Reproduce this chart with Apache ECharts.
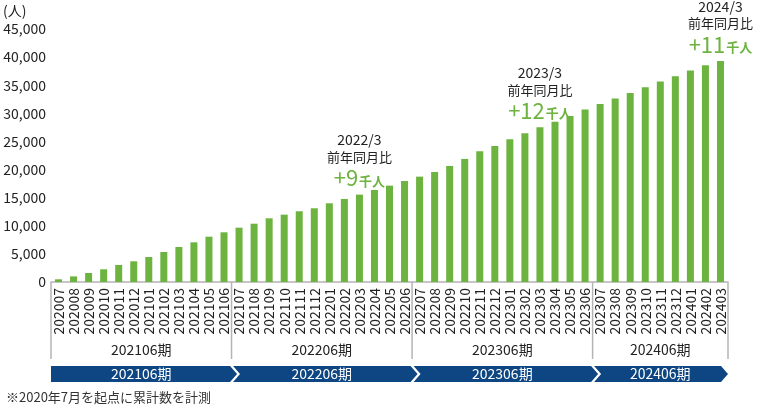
<!DOCTYPE html>
<html>
<head>
<meta charset="utf-8">
<script src="https://cdn.jsdelivr.net/npm/echarts@6/dist/echarts.min.js"></script>
<style>
  html, body { margin: 0; padding: 0; background: #fff; }
  #chart { width: 760px; height: 411px; }
</style>
</head>
<body>
<div id="chart"></div>
<script>
// months (cumulative count since 2020/7)
const months = [
  '202007', '202008', '202009', '202010', '202011', '202012',
  '202101', '202102', '202103', '202104', '202105', '202106',
  '202107', '202108', '202109', '202110', '202111', '202112',
  '202201', '202202', '202203', '202204', '202205', '202206',
  '202207', '202208', '202209', '202210', '202211', '202212',
  '202301', '202302', '202303', '202304', '202305', '202306',
  '202307', '202308', '202309', '202310', '202311', '202312',
  '202401', '202402', '202403'
]
const members = [
  480, 1000, 1600, 2260, 3030, 3680, 4450, 5340, 6230, 7060, 8060, 8840,
  9660, 10370, 11330, 11980, 12580, 13110, 14000, 14770, 15540, 16370, 17140, 17970,
  18740, 19570, 20640, 21890, 23250, 24200, 25390, 26460, 27530, 28520, 29540, 30660,
  31670, 32620, 33630, 34640, 35640, 36600, 37600, 38560, 39320
]
const periods = ['202106期', '202206期', '202306期', '202406期']
const periodSizes = [12, 12, 12, 9]
const noteMonths = ['202203', '202303', '202403']
const noteDates = ['2022/3', '2023/3', '2024/3']
const noteDeltas = ['+9', '+12', '+11']
const yMax = 45000
const yStep = 5000

const FONT = '"Noto Sans CJK JP", "Noto Sans", sans-serif'
const GREEN = '#6db33f'
const NAVY = '#0d4682'

const chart = echarts.init(document.getElementById('chart'))

const barData = members.map((v, i) => {
  const k = noteMonths.indexOf(months[i])
  if (k < 0) return v
  return {
    value: v,
    label: {
      show: true,
      position: 'top',
      distance: 4,
      formatter: '{d|' + noteDates[k] + '}\n{t|前年同月比}\n{v|' + noteDeltas[k] + '}{u|千人}'
    }
  }
})

chart.setOption({
  animation: false,
  textStyle: { fontFamily: FONT },
  grid: { left: 51, right: 32, top: 29, bottom: 129 },
  xAxis: {
    type: 'category',
    data: months,
    axisLine: { lineStyle: { color: '#b4b4b4', width: 1.5 } },
    axisTick: { show: false },
    axisLabel: { rotate: 90, interval: 0, margin: 6, fontSize: 14, color: '#222', fontFamily: FONT }
  },
  yAxis: {
    type: 'value',
    min: 0,
    max: yMax,
    interval: yStep,
    axisLine: { show: false },
    axisTick: { show: false },
    splitLine: { show: false },
    axisLabel: {
      margin: 5, fontSize: 14, color: '#222', fontFamily: FONT,
      formatter: v => v.toLocaleString('en-US')
    }
  },
  series: [{
    type: 'bar',
    data: barData,
    barWidth: 7,
    itemStyle: { color: GREEN },
    label: {
      fontFamily: FONT,
      align: 'center',
      rich: {
        d: { fontSize: 14, lineHeight: 17, color: '#222', fontFamily: FONT, align: 'center' },
        t: { fontSize: 13, lineHeight: 17, color: '#222', fontFamily: FONT, align: 'center' },
        v: { fontSize: 22, lineHeight: 25, color: GREEN, fontFamily: FONT },
        u: { fontSize: 13, lineHeight: 25, color: GREEN, fontWeight: 'bold', fontFamily: FONT, padding: [5, 0, 0, 1] }
      }
    }
  }]
})

// period brackets and chevron bands under the axis
function drawPeriods() {
  const px = i => chart.convertToPixel({ xAxisIndex: 0 }, i)
  const bw = px(1) - px(0)
  const y0 = chart.convertToPixel({ yAxisIndex: 0 }, 0)
  const els = []
  const bandTop = y0 + 84, bandBot = y0 + 100, bandMid = (bandTop + bandBot) / 2
  const d = 7
  let s = 0
  periods.forEach((name, k) => {
    const e = s + periodSizes[k]
    const xl = px(s) - bw / 2
    const xr = px(e - 1) + bw / 2
    const cx = (xl + xr) / 2
    if (k === 0) {
      els.push({ type: 'line', shape: { x1: xl, y1: y0, x2: xl, y2: y0 + 77 }, style: { stroke: '#b4b4b4', lineWidth: 1.5 } })
    }
    els.push({ type: 'line', shape: { x1: xr, y1: y0, x2: xr, y2: y0 + 77 }, style: { stroke: '#b4b4b4', lineWidth: 1.5 } })
    els.push({
      type: 'text',
      style: { text: name, x: cx, y: y0 + 68, align: 'center', textAlign: 'center', verticalAlign: 'middle', textVerticalAlign: 'middle', font: '14px ' + FONT, fill: '#222' }
    })
    const last = k === periods.length - 1
    const L = xl + (k === 0 ? 0 : 1.5)
    const R = last ? xr - d : xr - 1.5
    const pts = [[L, bandTop], [R, bandTop], [R + d, bandMid], [R, bandBot], [L, bandBot]]
    if (k > 0) pts.push([L + d, bandMid])
    els.push({ type: 'polygon', shape: { points: pts }, style: { fill: NAVY } })
    els.push({
      type: 'text',
      style: { text: name, x: cx, y: bandMid, align: 'center', textAlign: 'center', verticalAlign: 'middle', textVerticalAlign: 'middle', font: '14px ' + FONT, fill: '#fff' }
    })
    s = e
  })
  els.push({ type: 'text', style: { text: '(人)', x: 3, y: 11, verticalAlign: 'middle', textVerticalAlign: 'middle', font: '14px ' + FONT, fill: '#222' } })
  els.push({ type: 'text', style: { text: '※2020年7月を起点に累計数を計測', x: 6, y: 397, verticalAlign: 'middle', textVerticalAlign: 'middle', font: '13px ' + FONT, fill: '#333' } })
  chart.setOption({ graphic: { elements: els } })
}
drawPeriods()
</script>
</body>
</html>
